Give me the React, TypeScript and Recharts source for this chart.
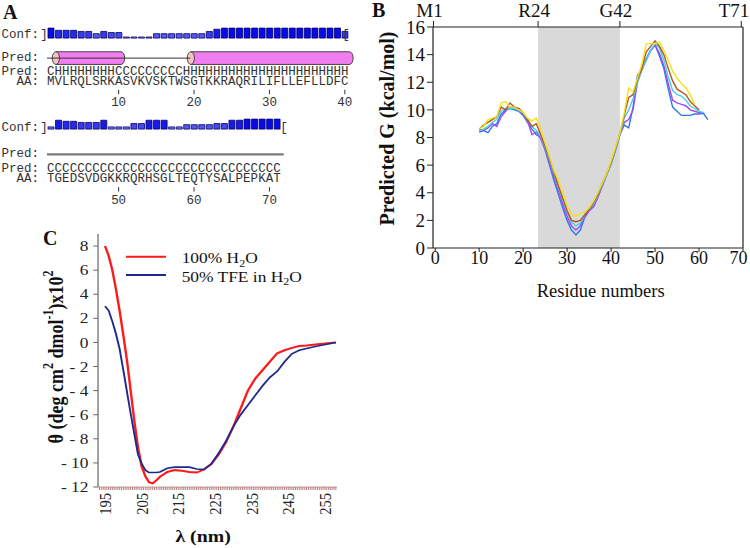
import React from 'react';
import {
  BarChart, Bar, Cell, LineChart, Line, XAxis, YAxis,
  ReferenceArea, ReferenceLine, Legend,
} from 'recharts';

const SERIF = '"Liberation Serif", "Times New Roman", Times, serif';
const MONO = '"Liberation Mono", "Courier New", monospace';
const TXT = '#333333';

// ---------------- Panel A (PSIPRED) data ----------------
const aRow1Start = 1;
const aRow1Seq = 'MVLRQLSRKASVKVSKTWSGTKKRAQRILIFLLEFLLDFC';
const aRow1Pred = 'C' + 'HHHHHHHH' + 'CCCCCCCCC' + 'HHHHHHHHHHH' + 'HHHHHHHHHHH';
const aRow1Conf = [9, 7, 7, 7, 6, 6, 4, 6, 5, 5, 1, 1, 1, 1, 4, 4, 4, 4, 4, 4, 4, 6, 8, 9, 9, 9, 9, 9, 9, 9, 9, 9, 9, 9, 9, 9, 9, 9, 9, 6];
const aRow1Helices = [[1.2, 10.8], [19.1, 41.1]];
const aRow1Coil = [0.5, 19.5];

const aRow2Start = 41;
const aRow2Seq = 'TGEDSVDGKKRQRHSGLTEQTYSALPEPKAT';
const aRow2Pred = 'CCCCCCCCCC' + 'CCCCCCCCCC' + 'CCCCCCCCCC' + 'C';
const aRow2Conf = [2, 8, 7, 7, 6, 6, 6, 8, 2, 2, 2, 5, 5, 8, 8, 8, 2, 2, 4, 4, 4, 4, 5, 5, 8, 8, 9, 9, 9, 9, 9];
const aRow2Helices: number[][] = [];
const aRow2Coil = [40.5, 71.9];
const aNumberLabels = [10, 20, 30, 40, 50, 60, 70];

// ---------------- Panel B data ----------------
const bResidues = [10, 11, 12, 13, 14, 15, 16, 17, 18, 19, 20, 21, 22, 23, 24, 25, 26, 27, 28, 29, 30, 31, 32, 33, 34, 35, 36, 37, 38, 39, 40, 41, 42, 43, 44, 45, 46, 47, 48, 49, 50, 51, 52, 53, 54, 55, 56, 57, 58, 59, 60, 61, 62];
const bYellow = [8.6, 8.8, 9.3, 9.4, 9.5, 10.5, 10.6, 10.2, 10.2, 10.0, 9.8, 9.4, 9.2, 9.4, 8.6, 7.6, 6.6, 5.6, 4.9, 4.0, 3.1, 2.4, 2.3, 2.5, 2.6, 2.9, 3.4, 4.0, 4.7, 5.4, 6.3, 7.3, 8.3, 9.8, 11.6, 11.3, 12.3, 13.3, 14.8, 14.8, 14.8, 14.9, 14.3, 13.6, 12.8, 12.3, 11.9, 11.6, 11.1, 10.4];
const bBrown = [8.6, 8.9, 9.1, 9.3, 9.5, 10.2, 10.0, 10.5, 10.2, 10.1, 9.8, 9.3, 8.8, 9.0, 8.2, 7.4, 6.5, 5.5, 4.5, 3.6, 2.7, 2.0, 1.9, 2.0, 2.4, 2.8, 3.3, 3.9, 4.7, 5.4, 6.2, 7.2, 8.3, 9.6, 10.9, 11.1, 12.2, 13.0, 14.2, 14.6, 15.0, 14.6, 14.0, 13.0, 12.1, 11.5, 11.3, 11.1, 10.6, 10.3, 10.0];
const bCyan = [8.5, 8.6, 8.8, 9.1, 9.3, 9.9, 10.1, 10.1, 10.1, 10.0, 9.8, 9.3, 8.8, 8.5, 8.1, 7.3, 6.4, 5.4, 4.4, 3.5, 2.6, 1.9, 1.6, 1.8, 2.4, 2.8, 3.2, 3.8, 4.6, 5.3, 6.1, 7.1, 8.2, 9.4, 10.0, 10.8, 12.0, 12.9, 13.6, 14.3, 14.8, 14.5, 13.6, 12.4, 11.4, 11.1, 11.0, 10.7, 10.3, 10.1, 9.9, 9.8];
const bPurple = [8.6, 8.5, 8.7, 9.0, 8.8, 9.5, 9.9, 10.2, 10.1, 10.0, 9.7, 9.2, 8.2, 8.4, 7.9, 7.2, 6.2, 5.2, 4.2, 3.2, 2.3, 1.6, 1.3, 1.6, 2.3, 2.7, 3.0, 3.7, 4.5, 5.3, 6.1, 7.1, 8.2, 9.1, 9.3, 10.0, 12.0, 12.9, 13.6, 14.3, 14.7, 14.1, 13.2, 11.9, 10.7, 10.5, 10.4, 10.3, 10.0, 9.9, 9.8, 9.8];
const bBlue = [8.4, 8.5, 8.35, 8.8, 9.0, 9.7, 10.0, 10.1, 10.0, 9.9, 9.6, 9.1, 8.6, 8.2, 8.0, 7.1, 6.0, 4.9, 3.9, 2.9, 2.0, 1.3, 0.95, 1.3, 2.2, 2.7, 3.0, 3.7, 4.5, 5.3, 6.1, 7.1, 8.2, 8.9, 8.7, 10.2, 12.5, 12.9, 13.7, 14.3, 14.7, 13.9, 13.0, 11.5, 10.2, 9.9, 9.6, 9.6, 9.6, 9.7, 9.7, 9.75, 9.3];
const bXTicks = [0, 10, 20, 30, 40, 50, 60, 70];
const bYTicks = [0, 2, 4, 6, 8, 10, 12, 14, 16];
const bTopTickValues = [-0.4, 23.4, 42, 69.6];
const bTopTickLabels = ['M1', 'R24', 'G42', 'T71'];
const bShade = [23.4, 42];

const bSeries = [
  { key: 'blue', values: bBlue, color: '#2f77ee' },
  { key: 'purple', values: bPurple, color: '#a347f5' },
  { key: 'cyan', values: bCyan, color: '#45d3e3' },
  { key: 'brown', values: bBrown, color: '#b5561f' },
  { key: 'yellow', values: bYellow, color: '#f2e21a' },
];

// ---------------- Panel C data ----------------
const cWavelengths = [195, 196, 197, 198, 199, 200, 201, 202, 203, 204, 205, 206, 207, 208, 209, 210, 212, 214, 216, 218, 220, 222, 224, 226, 228, 230, 232, 234, 236, 238, 240, 242, 244, 246, 248, 250, 253, 258];
const cWater = [8.0, 7.2, 6.0, 4.4, 2.6, 0.6, -1.5, -4.0, -6.5, -8.7, -10.3, -11.1, -11.6, -11.7, -11.45, -11.15, -10.75, -10.6, -10.65, -10.75, -10.8, -10.55, -10.1, -9.3, -8.3, -7.0, -5.5, -4.0, -3.0, -2.3, -1.6, -0.9, -0.65, -0.45, -0.3, -0.25, -0.15, 0];
const cTFE = [3.0, 2.65, 1.75, 0.7, -0.55, -2.3, -4.1, -5.9, -7.6, -9.3, -10.05, -10.6, -10.8, -10.8, -10.8, -10.75, -10.45, -10.35, -10.35, -10.35, -10.5, -10.55, -10.1, -9.2, -8.2, -7.0, -6.0, -5.2, -4.4, -3.6, -2.9, -2.4, -1.6, -0.95, -0.65, -0.5, -0.3, 0];
const cTickLabels = [195, 205, 215, 225, 235, 245, 255];
const cYTicks = [-12, -10, -8, -6, -4, -2, 0, 2, 4, 6, 8];
const cMinorTicks: number[] = [];
for (let v = 193.5; v <= 258.01; v += 0.5) cMinorTicks.push(v);

// ---------------- Panel A components ----------------
const CHAR_W = 7.54;
const A_LEFT = 46.7;
const CONF_DOMAIN = [-26, 10];

type RowLayout = {
  top: number; plotH: number; axisH: number;
  predDy: number; aaDy: number; tickDy: number; numDy: number;
  cylY: number[]; coilY: number; coilColor: string; coilWidth: number;
};

function confColor(c: number) {
  const t = c / 9;
  const r = Math.round(150 - 140 * t);
  const b = Math.round(245 - 15 * t);
  return `rgb(${r},${r},${b})`;
}

function Cylinder(props: any) {
  const { x, y, width, height } = props;
  const rx = 3.6;
  const ry = height / 2;
  const left = x + rx;
  const right = x + width - rx;
  return (
    <g>
      <path
        d={`M${left},${y} L${right},${y} A${rx},${ry} 0 0 1 ${right},${y + height} L${left},${y + height} Z`}
        fill="#f07ef0" stroke="#333" strokeWidth={0.9}
      />
      <ellipse cx={left} cy={y + ry} rx={rx} ry={ry} fill="#f6c3c3" stroke="#333" strokeWidth={0.9} />
    </g>
  );
}

function PsipredRow(props: {
  start: number; seq: string; pred: string; conf: number[];
  helices: number[][]; coil: number[]; L: RowLayout;
}) {
  const { start, seq, pred, conf, helices, coil, L } = props;
  const data = conf.map((c, i) => ({ res: start + i, conf: c }));
  const n = conf.length;
  const ticks = data.map((d) => d.res);
  const renderTick = (p: any) => {
    const { x, y, payload } = p;
    const res = payload.value as number;
    const i = Math.round(res - start);
    const showNum = aNumberLabels.includes(res);
    return (
      <g>
        <text textAnchor="middle" fontFamily={MONO} fontSize={12.5} fill={TXT}>
          <tspan x={x} y={y + L.predDy}>{pred[i]}</tspan>
          <tspan x={x} y={y + L.aaDy}>{seq[i]}</tspan>
        </text>
        {showNum && <line x1={x} x2={x} y1={y + L.tickDy} y2={y + L.tickDy + 4.5} stroke={TXT} strokeWidth={1} />}
        {showNum && <text x={x} y={y + L.numDy} textAnchor="middle" fontFamily={MONO} fontSize={12.5} fill={TXT}>{res}</text>}
      </g>
    );
  };
  return (
    <div style={{ position: 'absolute', left: A_LEFT, top: L.top }}>
      <BarChart
        width={n * CHAR_W + 14}
        height={L.plotH + L.axisH}
        data={data}
        margin={{ top: 0, right: 14, bottom: 0, left: 0 }}
      >
        <XAxis
          dataKey="res" type="number" domain={[start - 0.5, start + n - 0.5]}
          ticks={ticks} interval={0} allowDataOverflow
          tickLine={false} axisLine={false} tickSize={0} tickMargin={0}
          height={L.axisH} tick={renderTick}
        />
        <YAxis hide type="number" domain={CONF_DOMAIN} allowDataOverflow />
        <ReferenceLine
          segment={[{ x: coil[0], y: L.coilY }, { x: coil[1], y: L.coilY }]}
          stroke={L.coilColor} strokeWidth={L.coilWidth} ifOverflow="visible"
        />
        {helices.map((h, i) => (
          <ReferenceArea key={i} x1={h[0]} x2={h[1]} y1={L.cylY[0]} y2={L.cylY[1]} ifOverflow="visible" shape={Cylinder} />
        ))}
        <Bar dataKey="conf" barSize={6} isAnimationActive={false} stroke="#00006a" strokeWidth={0.8}>
          {data.map((d, i) => <Cell key={i} fill={confColor(d.conf)} />)}
        </Bar>
      </BarChart>
    </div>
  );
}

const row1Layout: RowLayout = {
  top: 27.2, plotH: 40, axisH: 45, predDy: 7.8, aaDy: 17.8, tickDy: 22.8, numDy: 39.3,
  cylY: [-23.7, -12.3], coilY: -18, coilColor: '#333', coilWidth: 1,
};
const row2Layout: RowLayout = {
  top: 117.9, plotH: 40, axisH: 52, predDy: 14.4, aaDy: 24.1, tickDy: 29.1, numDy: 46.1,
  cylY: [-23.7, -12.3], coilY: -22.8, coilColor: '#7a7a7a', coilWidth: 2.2,
};

// ---------------- Panel B ----------------
const bData = bResidues.map((r, i) => {
  const o: any = { r };
  bSeries.forEach((s) => { if (i < s.values.length) o[s.key] = s.values[i]; });
  return o;
});

const B_W = 380;
const BTopTick = (p: any) => {
  const { x, y, payload } = p;
  const idx = bTopTickValues.indexOf(payload.value);
  const label = bTopTickLabels[idx] ?? '';
  const cx = Math.min(x - 4, B_W - 16);
  return <text x={cx} y={y} textAnchor="middle" fontFamily={SERIF} fontSize={19} fill="#111">{label}</text>;
};
const BBottomTick = (p: any) => {
  const { x, y, payload } = p;
  const cx = Math.min(x, B_W - 11.5);
  return (
    <text x={cx} y={y} dy="0.71em" textAnchor="middle" fontFamily={SERIF} fontSize={18} fill="#111">{payload.value}</text>
  );
};

function PanelB() {
  return (
    <div style={{ position: 'absolute', left: 370, top: 0 }}>
      <LineChart width={B_W} height={300} data={bData} margin={{ top: 0, right: 0, bottom: 0, left: 0 }}>
        <ReferenceArea xAxisId="b" yAxisId="l" x1={bShade[0]} x2={bShade[1]} y1={0} y2={16} fill="#d9d9d9" fillOpacity={1} stroke="none" />
        <XAxis
          xAxisId="b" dataKey="r" type="number" domain={[-0.5, 70]} ticks={bXTicks} interval={0} allowDataOverflow
          height={52} tickSize={4} tickMargin={-1}
          axisLine={{ stroke: '#222', strokeWidth: 1.2 }} tickLine={{ stroke: '#222' }}
          tick={BBottomTick}
          label={(lp: any) => {
            const vb = lp.viewBox;
            return (
              <text x={vb.x + vb.width / 2 + 12.7} y={vb.y + 49} textAnchor="middle" fontFamily={SERIF} fontSize={18.5} fill="#111">
                Residue numbers
              </text>
            );
          }}
        />
        <XAxis
          xAxisId="t" dataKey="r" orientation="top" type="number" domain={[-0.5, 70]} ticks={bTopTickValues} interval={0} allowDataOverflow
          height={27} tickSize={6} tickMargin={4}
          axisLine={{ stroke: '#222', strokeWidth: 1.2 }} tickLine={{ stroke: '#222' }}
          tick={BTopTick}
        />
        <YAxis
          yAxisId="l" type="number" domain={[0, 16]} ticks={bYTicks} interval={0} allowDataOverflow width={63}
          tickSize={6} tickMargin={2}
          axisLine={{ stroke: '#222', strokeWidth: 1.2 }} tickLine={{ stroke: '#222' }}
          tick={{ fontSize: 19, fill: '#111', fontFamily: SERIF }}
          label={(lp: any) => {
            const vb = lp.viewBox;
            const cx = vb.x + 16.7;
            const cy = vb.y + vb.height / 2 - 9;
            return (
              <text x={cx} y={cy} transform={`rotate(-90 ${cx} ${cy})`} textAnchor="middle" dominantBaseline="central"
                fontFamily={SERIF} fontSize={20} fontWeight="bold" fill="#111">
                Predicted G (kcal/mol)
              </text>
            );
          }}
        />
        <YAxis
          yAxisId="r" orientation="right" type="number" domain={[0, 16]} width={7} tick={false} tickLine={false}
          axisLine={{ stroke: '#222', strokeWidth: 1.2 }}
        />
        {bSeries.map((s) => (
          <Line
            key={s.key} xAxisId="b" yAxisId="l" type="linear" dataKey={s.key} stroke={s.color}
            strokeWidth={1.4} dot={false} isAnimationActive={false} connectNulls={false}
          />
        ))}
      </LineChart>
    </div>
  );
}

// ---------------- Panel C ----------------
const cData = cWavelengths.map((w, i) => ({ wl: w, water: cWater[i], tfe: cTFE[i] }));
const C_K = 1.2;
const C_W = 292;
const C_RED = '#ff1a1a';
const C_NAVY = '#1c2a90';

const CTick = (p: any) => {
  const { x, y, payload } = p;
  const v = payload.value;
  if (!cTickLabels.includes(v)) return <g />;
  return (
    <text x={x} y={y} transform={`rotate(-90 ${x} ${y})`} textAnchor="end" dy="0.35em"
      fontFamily={SERIF} fontSize={14.5} fill="#222">{v}</text>
  );
};

function CLegend() {
  return (
    <svg width={C_W} height={100} style={{ display: 'block', overflow: 'visible' }}>
      <line x1={105} x2={138.3} y1={56.7} y2={56.7} stroke={C_RED} strokeWidth={2} />
      <line x1={105} x2={138.3} y1={75} y2={75} stroke={C_NAVY} strokeWidth={2} />
      <text x={151.4} y={63.3} fontFamily={SERIF} fontSize={14.5} fill="#111">
        100% H<tspan dy={3.5} fontSize={10}>2</tspan><tspan dy={-3.5}>O</tspan>
      </text>
      <text x={151.4} y={81.7} fontFamily={SERIF} fontSize={14.5} fill="#111">
        50%  TFE in H<tspan dy={3.5} fontSize={10}>2</tspan><tspan dy={-3.5}>O</tspan>
      </text>
    </svg>
  );
}

function PanelC() {
  return (
    <div style={{ position: 'absolute', left: 0, top: 200, transform: `scaleX(${C_K})`, transformOrigin: '0 0' }}>
      <LineChart width={C_W} height={348} data={cData} margin={{ top: 34, right: 11.2, bottom: 0, left: 0 }}>
        <XAxis
          dataKey="wl" type="number" domain={[193.1, 258.3]} ticks={cMinorTicks} interval={0} allowDataOverflow
          height={61} tickSize={3} tickMargin={3}
          axisLine={{ stroke: '#c9a0a0' }} tickLine={{ stroke: '#b07070', strokeWidth: 0.8 }}
          tick={CTick}
          label={(lp: any) => {
            const vb = lp.viewBox;
            return (
              <text x={vb.x + vb.width / 2 - 12} y={vb.y + 55} textAnchor="middle" fontFamily={SERIF} fontSize={16.5} fontWeight="bold" fill="#111">
                λ (nm)
              </text>
            );
          }}
        />
        <YAxis
          type="number" domain={[-12, 9]} ticks={cYTicks} interval={0} allowDataOverflow width={81.7}
          tickSize={4} tickMargin={4}
          axisLine={{ stroke: '#666' }} tickLine={{ stroke: '#666' }}
          tick={{ fontSize: 14.5, fill: '#222', fontFamily: SERIF }}
          tickFormatter={(v: number) => (v < 0 ? `- ${-v}` : `${v}`)}
          label={(lp: any) => {
            const vb = lp.viewBox;
            const cx = vb.x + 45.8;
            const cy = vb.y + vb.height / 2 - 3.5;
            return (
              <text x={cx} y={cy} transform={`rotate(-90 ${cx} ${cy})`} textAnchor="middle" dominantBaseline="central"
                fontFamily={SERIF} fontSize={18} fontWeight="bold" fill="#111">
                θ (deg cm<tspan dy={-6} fontSize={12}>2</tspan><tspan dy={6}> dmol</tspan><tspan dy={-6} fontSize={12}>-1</tspan><tspan dy={6}>)x10</tspan><tspan dy={-6} fontSize={12}>2</tspan>
              </text>
            );
          }}
        />
        <Legend
          layout="vertical" verticalAlign="middle" align="center"
          wrapperStyle={{ left: 0, top: 0, width: C_W, height: 100 }}
          content={() => <CLegend />}
        />
        <Line type="linear" dataKey="water" stroke={C_RED} strokeWidth={2} dot={false} isAnimationActive={false} />
        <Line type="linear" dataKey="tfe" stroke={C_NAVY} strokeWidth={1.6} dot={false} isAnimationActive={false} />
      </LineChart>
    </div>
  );
}

// ---------------- Overlay texts ----------------
function Overlay() {
  const mono = { fontFamily: MONO, fontSize: 12.5, fill: TXT } as const;
  const bold = { fontFamily: SERIF, fontSize: 20, fontWeight: 'bold' as const, fill: '#111' };
  return (
    <svg width={750} height={548} style={{ position: 'absolute', left: 0, top: 0, pointerEvents: 'none' }}>
      <text x={3} y={18.5} {...bold}>A</text>
      <text x={372} y={17} {...bold}>B</text>
      <text x={43} y={245} {...bold}>C</text>
      <text x={1.5} y={37.5} {...mono}>Conf:</text>
      <text x={44} y={37.5} textAnchor="middle" {...mono}>]</text>
      <text x={346} y={37.5} textAnchor="middle" {...mono}>[</text>
      <text x={1.5} y={60.7} {...mono}>Pred:</text>
      <text {...mono}>
        <tspan x={1.5} y={75}>Pred:</tspan>
        <tspan x={16.6} y={85}>AA:</tspan>
      </text>
      <text x={1.5} y={130.7} {...mono}>Conf:</text>
      <text x={44} y={130.7} textAnchor="middle" {...mono}>]</text>
      <text x={284} y={130.7} textAnchor="middle" {...mono}>[</text>
      <text x={1.5} y={157} {...mono}>Pred:</text>
      <text {...mono}>
        <tspan x={1.5} y={172.3}>Pred:</tspan>
        <tspan x={16.6} y={182}>AA:</tspan>
      </text>
    </svg>
  );
}

export default function App() {
  return (
    <div style={{ position: 'absolute', left: 0, top: 0, width: 750, height: 548, background: '#fff', overflow: 'hidden' }}>
      <PsipredRow start={aRow1Start} seq={aRow1Seq} pred={aRow1Pred} conf={aRow1Conf} helices={aRow1Helices} coil={aRow1Coil} L={row1Layout} />
      <PsipredRow start={aRow2Start} seq={aRow2Seq} pred={aRow2Pred} conf={aRow2Conf} helices={aRow2Helices} coil={aRow2Coil} L={row2Layout} />
      <PanelC />
      <PanelB />
      <Overlay />
    </div>
  );
}
